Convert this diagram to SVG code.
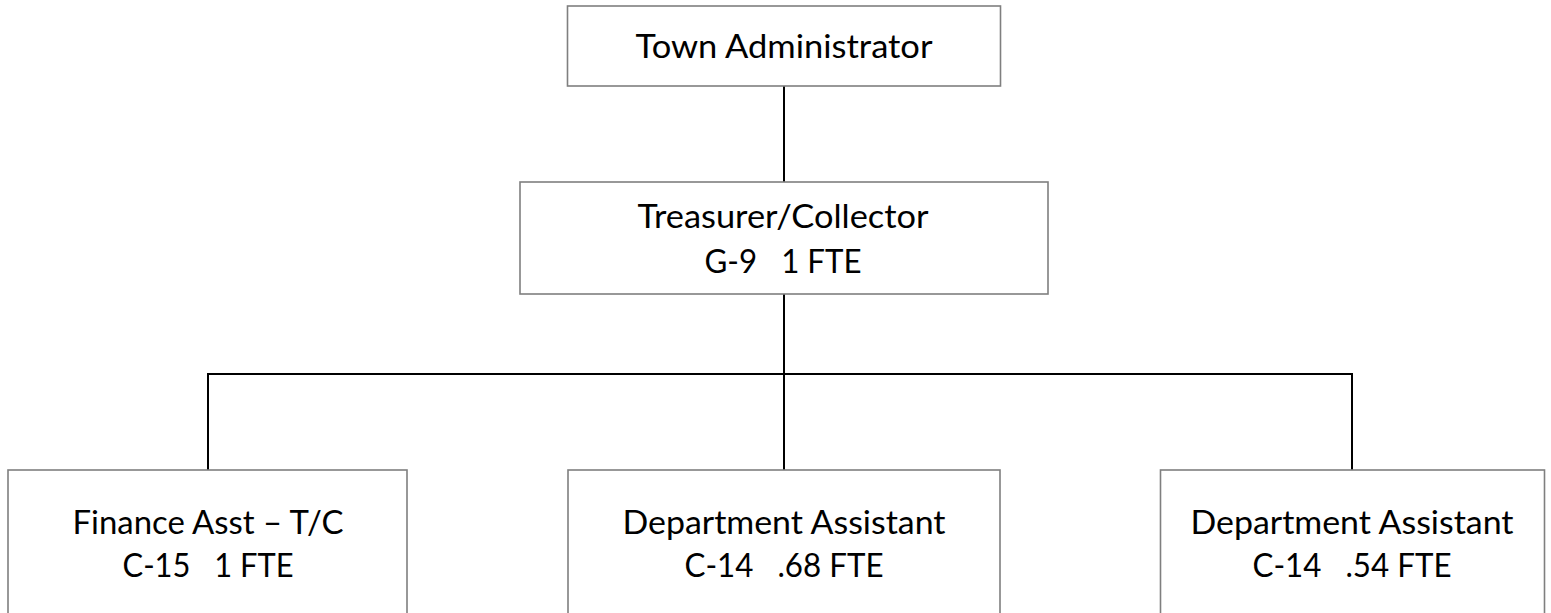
<svg xmlns="http://www.w3.org/2000/svg" width="1551" height="613" viewBox="0 0 1551 613">
  <style>
    .box { fill: #ffffff; stroke: #7f7f7f; stroke-width: 1.6; }
    .conn { stroke: #000000; stroke-width: 2; fill: none; }
    .lbl { font-family: Lato, "Open Sans", "Liberation Sans", sans-serif; font-size: 33.5px; fill: #000000; text-anchor: middle; white-space: pre; }
  </style>
  <rect x="0" y="0" width="1551" height="613" fill="#ffffff"/>
  <g id="connectors">
    <line class="conn" x1="784" y1="86" x2="784" y2="182"/>
    <line class="conn" x1="784" y1="294" x2="784" y2="470"/>
    <line class="conn" x1="207" y1="374" x2="1353" y2="374"/>
    <line class="conn" x1="208" y1="373" x2="208" y2="470"/>
    <line class="conn" x1="1352" y1="373" x2="1352" y2="470"/>
  </g>
  <g id="town-administrator">
    <rect class="box" x="567.5" y="6" width="433" height="80"/>
    <text class="lbl" x="784" y="58" textLength="297" lengthAdjust="spacingAndGlyphs">Town Administrator</text>
  </g>
  <g id="treasurer-collector">
    <rect class="box" x="520" y="182" width="528" height="112"/>
    <text class="lbl" x="783" y="228" textLength="291" lengthAdjust="spacingAndGlyphs">Treasurer/Collector</text>
    <text class="lbl" x="783" y="273" textLength="157" lengthAdjust="spacingAndGlyphs" xml:space="preserve">G-9   1 FTE</text>
  </g>
  <g id="finance-asst">
    <rect class="box" x="8" y="470" width="399" height="170"/>
    <text class="lbl" x="208" y="534" textLength="271" lengthAdjust="spacingAndGlyphs">Finance Asst – T/C</text>
    <text class="lbl" x="208" y="577" textLength="171" lengthAdjust="spacingAndGlyphs" xml:space="preserve">C-15   1 FTE</text>
  </g>
  <g id="department-assistant-1">
    <rect class="box" x="568" y="470" width="432" height="170"/>
    <text class="lbl" x="784" y="534" textLength="323" lengthAdjust="spacingAndGlyphs">Department Assistant</text>
    <text class="lbl" x="784" y="577" textLength="199" lengthAdjust="spacingAndGlyphs" xml:space="preserve">C-14   .68 FTE</text>
  </g>
  <g id="department-assistant-2">
    <rect class="box" x="1160.5" y="470" width="384" height="170"/>
    <text class="lbl" x="1352" y="534" textLength="323" lengthAdjust="spacingAndGlyphs">Department Assistant</text>
    <text class="lbl" x="1352" y="577" textLength="199" lengthAdjust="spacingAndGlyphs" xml:space="preserve">C-14   .54 FTE</text>
  </g>
</svg>
